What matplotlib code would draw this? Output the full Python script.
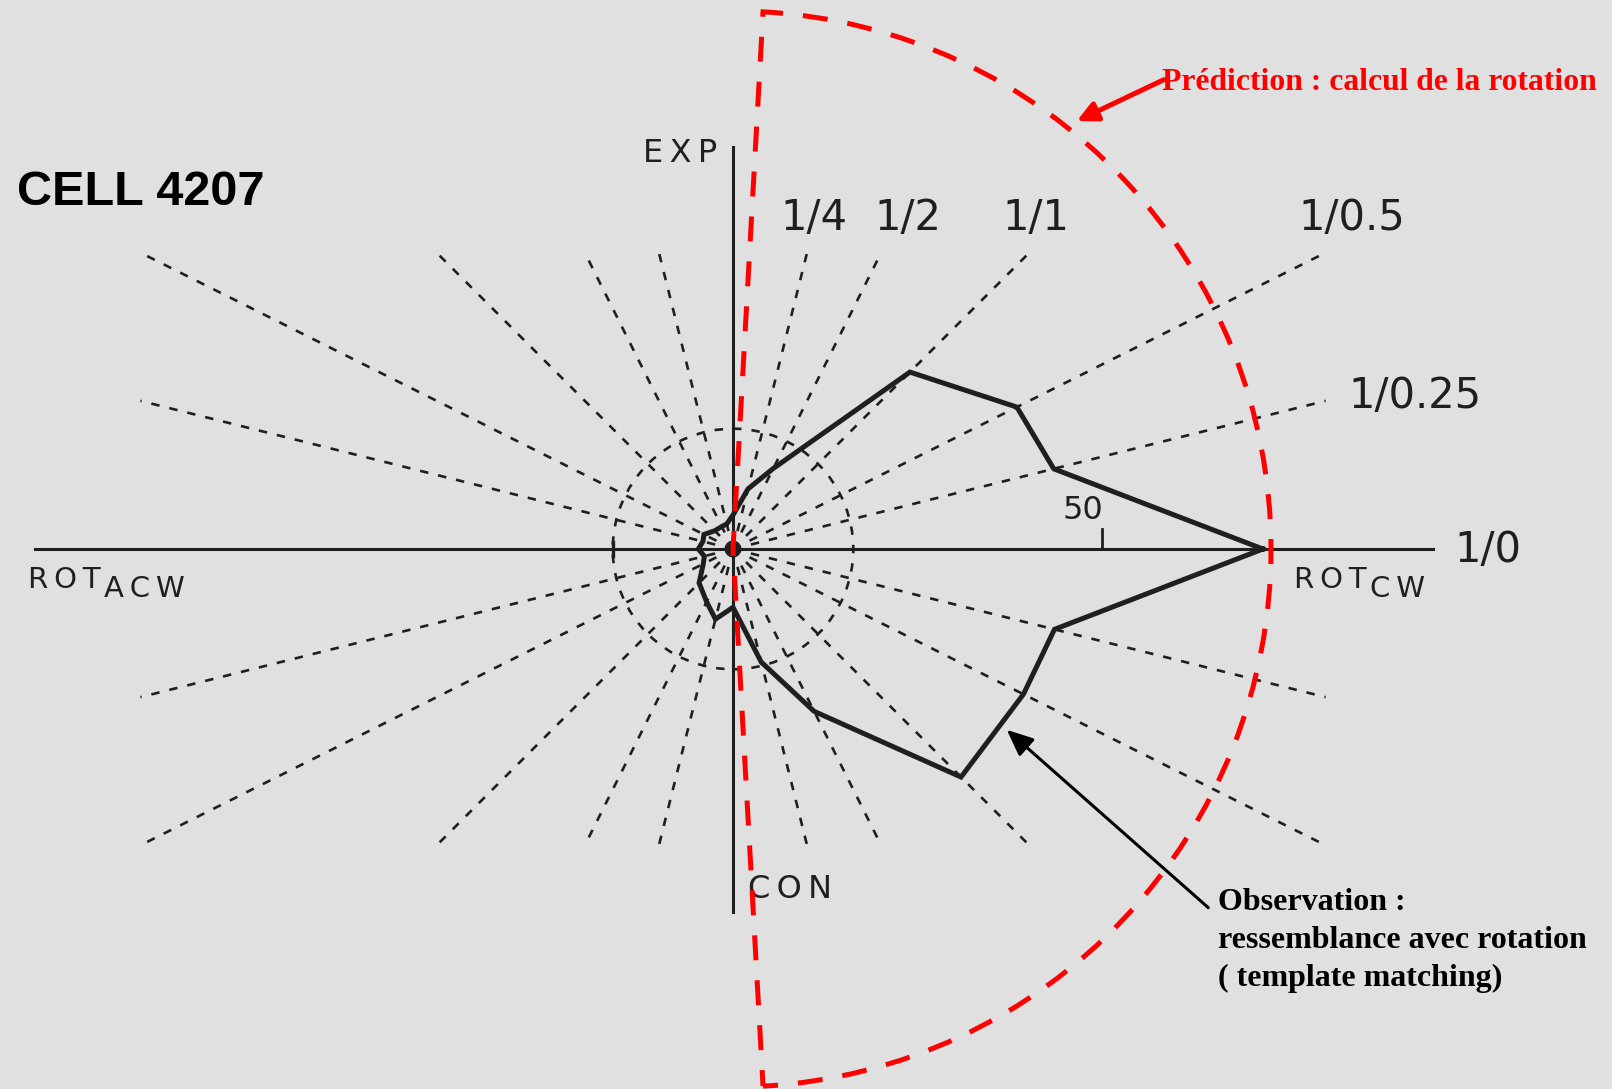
import numpy as np
import matplotlib
matplotlib.use("Agg")
import matplotlib.pyplot as plt
from matplotlib.patches import Wedge, Circle, FancyArrowPatch

# Spiral-space stimulus directions: EXP/ROT ratio denominators in one quadrant
ratio_denoms = [0, 0.25, 0.5, 1, 2, 4]
ratio_labels = ["1/0", "1/0.25", "1/0.5", "1/1", "1/2", "1/4"]

# Response (spikes/s) for the 24 directions, counter-clockwise starting at ROT CW
response = [71.8, 44.8, 43.0, 33.9, 12.2, 8.4,      # CW -> EXP
            4.6, 3.5, 3.4, 3.5, 4.4, 4.2,           # EXP -> ACW
            4.7, 4.0, 4.5, 6.5, 8.0, 9.8,           # ACW -> CON
            7.9, 15.8, 24.6, 43.7, 44.0, 44.9]      # CON -> CW

spont_level = 16.3        # dashed reference circle
prediction_radius = 72.9  # predicted tuning (rotation template)
scale_tick = 50

observation_lines = ["Observation :", "ressemblance avec rotation",
                     "( template matching)"]

# ---- direction angles -------------------------------------------------------
base = np.degrees(np.arctan(np.array(ratio_denoms, dtype=float)))
upper_q1 = np.concatenate([base, [90.0]])
upper_q2 = 180.0 - upper_q1[::-1][1:]
upper = np.concatenate([upper_q1, upper_q2])
lower = 360.0 - upper[1:-1][::-1]
directions = np.concatenate([upper, lower])

BG = "#e0e0e0"
INK = "#1f1f1f"
PX_PER_UNIT = 7.38
W_PX, H_PX = 1612, 1089
CX, CY = 733, 549
TS = "\u2009"  # thin space used as letter spacing for the wide lettering


def spaced(s):
    return TS.join(s)


fig = plt.figure(figsize=(W_PX / 100, H_PX / 100), dpi=100, facecolor=BG)
ax = fig.add_axes([0, 0, 1, 1])
ax.set_facecolor(BG)
ax.set_xlim(-CX / PX_PER_UNIT, (W_PX - CX) / PX_PER_UNIT)
ax.set_ylim(-(H_PX - CY) / PX_PER_UNIT, CY / PX_PER_UNIT)
ax.axis("off")

# ---- dashed direction rays clipped to a box ---------------------------------
half_w, half_h = 80.3, 40.2
dash = (3.2, 3.8)
for ang in directions:
    if np.isclose(ang % 90, 0):
        continue
    a = np.radians(ang)
    c, s = np.cos(a), np.sin(a)
    r_end = min(half_w / abs(c), half_h / abs(s))
    ax.plot([0, r_end * c], [0, r_end * s], color=INK, lw=1.9,
            dashes=dash, solid_capstyle="butt", zorder=2)

# dashed reference circle
ax.add_patch(Circle((0, 0), spont_level, fill=False, ec=INK, lw=1.9,
                    ls=(0, dash), zorder=2))
ax.plot([-spont_level, -spont_level], [-1.0, 1.0], color=INK, lw=2.4, zorder=3)

# ---- main axes ---------------------------------------------------------------
ax.plot([-94.6, 94.85], [0, 0], color=INK, lw=2.2, zorder=3)
ax.plot([0, 0], [-49.2, 54.5], color=INK, lw=2.2, zorder=3)
ax.plot([scale_tick, scale_tick], [0, 2.7], color=INK, lw=2.0, zorder=3)

# ---- response polygon --------------------------------------------------------
theta = np.radians(np.append(directions, directions[0]))
r = np.append(response, response[0])
ax.plot(r * np.cos(theta), r * np.sin(theta), color=INK, lw=3.6,
        solid_joinstyle="miter", zorder=4)

# ---- predicted rotation sector --------------------------------------------
ax.add_patch(Wedge((0, 0), prediction_radius, -86.8, 86.8, fill=False,
                   ec="#ff0000", lw=3.6, ls=(2, (5, 4)), zorder=5))

# ---- labels ------------------------------------------------------------------
sans = "DejaVu Sans"
ax.text(-2.2, 53.6, spaced("EXP"), ha="right", va="center", fontsize=23,
        family=sans, color=INK)
ax.text(2.0, -46.1, spaced("CON"), ha="left", va="center", fontsize=23,
        family=sans, color=INK)

label_pos = {"1/4": (11.0, 44.9), "1/2": (23.7, 44.9), "1/1": (41.0, 44.9),
             "1/0.5": (83.9, 44.9), "1/0.25": (92.4, 20.7), "1/0": (102.3, -0.2)}
for lab in ratio_labels:
    x, y = label_pos[lab]
    ax.text(x, y, lab, ha="center", va="center", fontsize=30,
            family=sans, color=INK)

ax.text(47.4, 5.2, str(scale_tick), ha="center", va="center", fontsize=23,
        family=sans, color=INK)

rot_l = ax.text(-95.5, -5.3, spaced("ROT"), ha="left", va="baseline",
                fontsize=21, family=sans, color=INK)
ax.annotate(spaced("ACW"), xy=(1, 0), xycoords=rot_l, xytext=(3, -9),
            textcoords="offset pixels", ha="left", va="bottom",
            fontsize=21, family=sans, color=INK)
rot_r = ax.text(76.0, -5.3, spaced("ROT"), ha="left", va="baseline",
                fontsize=21, family=sans, color=INK)
ax.annotate(spaced("CW"), xy=(1, 0), xycoords=rot_r, xytext=(3, -9),
            textcoords="offset pixels", ha="left", va="bottom",
            fontsize=21, family=sans, color=INK)

ax.text(-97.0, 46.6, "CELL 4207", ha="left", va="baseline", fontsize=35,
        family="Liberation Sans", weight="bold", color="black")

# ---- annotations -------------------------------------------------------------
serif = "Liberation Serif"
ax.text(58.1, 62.2, "Prédiction : calcul de la rotation", ha="left",
        va="baseline", fontsize=22.8, family=serif, weight="bold",
        color="#ff0000")
ax.add_patch(FancyArrowPatch((58.4, 63.6), (46.6, 58.0),
                             arrowstyle="-|>,head_length=0.6,head_width=0.3",
                             mutation_scale=20, color="#ff0000", lw=3.6,
                             shrinkA=0, shrinkB=0, zorder=6))

for i, line in enumerate(observation_lines):
    ax.text(65.7, -48.9 - 5.15 * i, line, ha="left", va="baseline",
            fontsize=23, family=serif, weight="bold", color="black")
ax.add_patch(FancyArrowPatch((64.4, -48.6), (37.1, -24.5),
                             arrowstyle="-|>,head_length=0.8,head_width=0.35",
                             mutation_scale=20, color="black", lw=2.2,
                             shrinkA=0, shrinkB=0, zorder=6))

fig.savefig("out.png", dpi=100, facecolor=BG)
